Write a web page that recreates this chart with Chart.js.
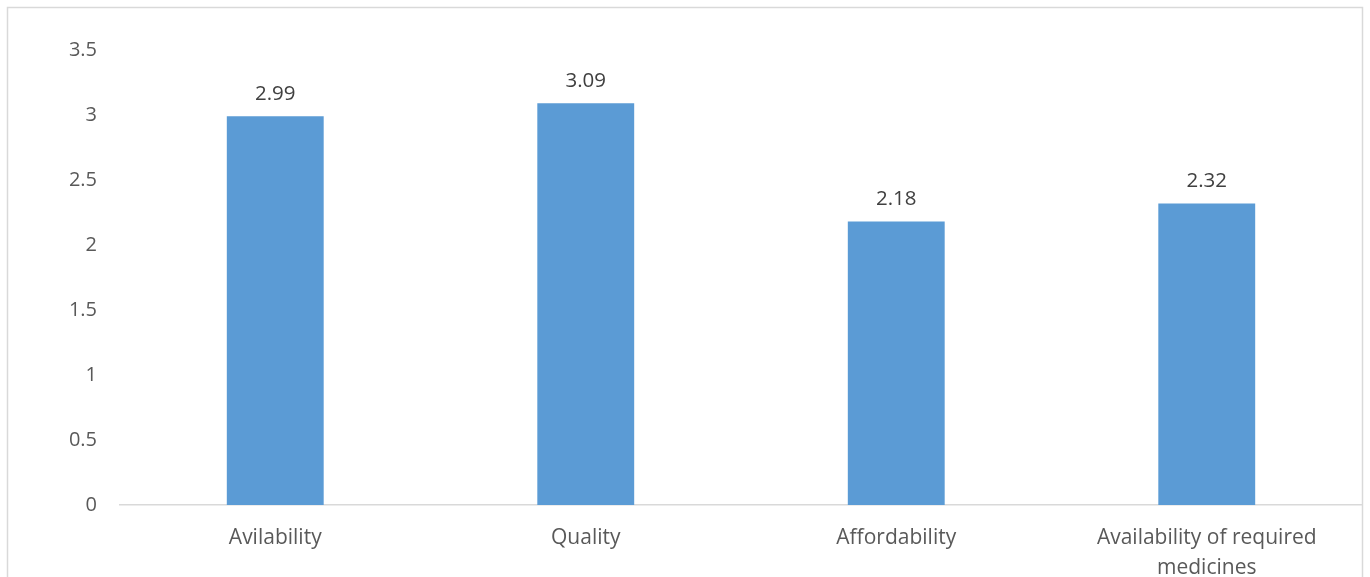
<!DOCTYPE html>
<html>
<head>
<meta charset="utf-8">
<script src="https://cdn.jsdelivr.net/npm/chart.js@4"></script>
<style>
  html, body { margin: 0; padding: 0; background: #fff; }
  #wrap { width: 1370px; height: 577px; }
</style>
</head>
<body>
<div id="wrap"><canvas id="chartBar"></canvas></div>
<script>
// dados do grafico
const categories = ['Avilability', 'Quality', 'Affordability', ['Availability of required', 'medicines']];
const values = [2.99, 3.09, 2.18, 2.32];
const yTicks = [0, 0.5, 1, 1.5, 2, 2.5, 3, 3.5];

const fontFam = '"Open Sans", "Liberation Sans", sans-serif';

// moldura em volta do grafico
const frame = {
  id: 'frame',
  beforeDraw(chart) {
    const c = chart.ctx;
    c.save();
    c.fillStyle = '#fff';
    c.fillRect(0, 0, chart.width, chart.height);
    c.strokeStyle = '#d9d9d9';
    c.lineWidth = 1.5;
    c.strokeRect(7.5, 7.5, 1355, 600);
    c.restore();
  }
};

// rotulos de valor acima das barras
const barLabels = {
  id: 'barLabels',
  afterDatasetsDraw(chart) {
    const c = chart.ctx;
    const meta = chart.getDatasetMeta(0);
    c.save();
    c.font = '20.5px ' + fontFam;
    c.fillStyle = '#404040';
    c.textAlign = 'center';
    c.textBaseline = 'bottom';
    meta.data.forEach((bar, i) => {
      c.fillText(values[i].toFixed(2), bar.x, bar.y - 12);
    });
    c.restore();
  }
};

const ctx = document.getElementById('chartBar');

new Chart(ctx, {
  type: 'bar',
  data: {
    labels: categories,
    datasets: [{
      data: values,
      backgroundColor: '#5b9bd5',
      categoryPercentage: 1,
      barPercentage: 0.312
    }]
  },
  options: {
    responsive: true,
    maintainAspectRatio: false,
    animation: false,
    layout: { padding: { top: 50, right: 8, bottom: 0, left: 0 } },
    plugins: {
      legend: { display: false },
      tooltip: { enabled: false }
    },
    scales: {
      x: {
        grid: { display: false, drawTicks: false },
        border: { display: true, color: '#d9d9d9', width: 1.5 },
        ticks: {
          color: '#595959',
          font: { family: fontFam, size: 21, lineHeight: 1.43 },
          padding: 18,
          maxRotation: 0,
          autoSkip: false
        },
        afterFit(scale) { scale.height = 72; }
      },
      y: {
        min: 0,
        max: 3.5,
        afterBuildTicks(scale) { scale.ticks = yTicks.map(v => ({ value: v })); },
        grid: { display: false, drawTicks: false },
        border: { display: false },
        ticks: {
          color: '#595959',
          font: { family: fontFam, size: 20 },
          padding: 23,
          callback: v => String(v)
        },
        afterFit(scale) { scale.width = 120; }
      }
    }
  },
  plugins: [frame, barLabels]
});
</script>
</body>
</html>
